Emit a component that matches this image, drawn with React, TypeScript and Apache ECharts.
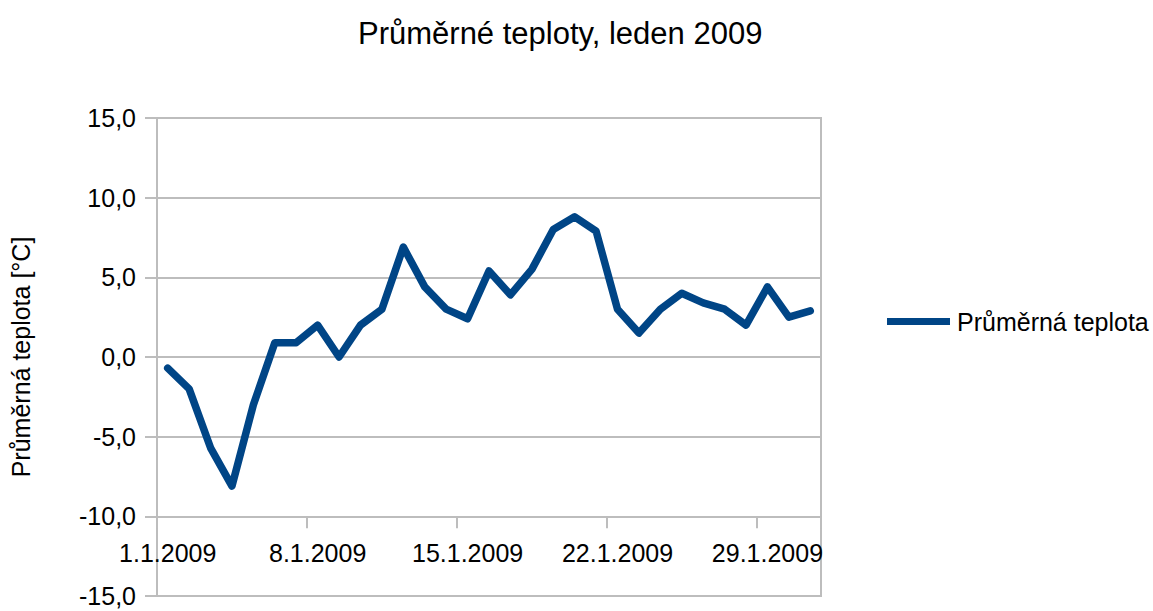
import React, { useEffect, useRef } from "react";
import * as echarts from "echarts";

const titleText = "Průměrné teploty, leden 2009";
const seriesName = "Průměrná teplota";
const yAxisName = "Průměrná teplota [°C]";

const days: string[] = [
  "1.1.2009", "2.1.2009", "3.1.2009", "4.1.2009", "5.1.2009", "6.1.2009", "7.1.2009",
  "8.1.2009", "9.1.2009", "10.1.2009", "11.1.2009", "12.1.2009", "13.1.2009", "14.1.2009",
  "15.1.2009", "16.1.2009", "17.1.2009", "18.1.2009", "19.1.2009", "20.1.2009", "21.1.2009",
  "22.1.2009", "23.1.2009", "24.1.2009", "25.1.2009", "26.1.2009", "27.1.2009", "28.1.2009",
  "29.1.2009", "30.1.2009", "31.1.2009",
];

const temps: number[] = [
  -0.7, -2.0, -5.7, -8.1, -3.0, 0.9, 0.9,
  2.0, 0.0, 2.0, 3.0, 6.9, 4.4, 3.0,
  2.4, 5.4, 3.9, 5.5, 8.0, 8.8, 7.9,
  3.0, 1.5, 3.0, 4.0, 3.4, 3.0, 2.0,
  4.4, 2.5, 2.9,
];

const yMin = -15;
const yMax = 15;
const yStep = 5;
const xAxisCross = -10;

const FONT = "'Liberation Sans', Arial, sans-serif";
const GRID_COLOR = "#bdbdbd";

export default function App() {
  const ref = useRef<HTMLDivElement>(null);

  useEffect(() => {
    if (!ref.current) return;
    const chart = echarts.init(ref.current, undefined, { renderer: "svg" });
    const gridTop = 118;
    const gridBottomPx = 596;
    const pxPerUnit = (gridBottomPx - gridTop) / (yMax - yMin);
    const axisOffset = -(xAxisCross - yMin) * pxPerUnit;

    chart.setOption({
      animation: false,
      backgroundColor: "#ffffff",
      textStyle: { fontFamily: FONT },
      title: {
        text: titleText,
        left: 353,
        top: 13,
        textStyle: { fontFamily: FONT, fontSize: 31, fontWeight: "normal", color: "#000" },
      },
      legend: {
        left: 882,
        top: 304,
        icon: "rect",
        itemWidth: 63,
        itemHeight: 7,
        itemGap: 0,
        textStyle: { fontFamily: FONT, fontSize: 25, color: "#000", padding: [0, 0, 0, 2] },
        data: [seriesName],
      },
      grid: {
        left: 146,
        right: 1153 - 821,
        top: gridTop,
        bottom: 611 - gridBottomPx,
        show: true,
        borderColor: GRID_COLOR,
        borderWidth: 2,
        containLabel: false,
      },
      xAxis: {
        type: "category",
        data: days,
        boundaryGap: true,
        position: "bottom",
        offset: axisOffset,
        axisLine: { show: true, onZero: false, lineStyle: { color: GRID_COLOR, width: 2 } },
        axisTick: { show: true, interval: 6, length: 12, lineStyle: { color: GRID_COLOR, width: 2 } },
        axisLabel: {
          interval: 6,
          fontFamily: FONT,
          fontSize: 25,
          color: "#000",
          margin: 24,
        },
        splitLine: { show: false },
      },
      yAxis: {
        type: "value",
        min: yMin,
        max: yMax,
        interval: yStep,
        name: yAxisName,
        nameLocation: "middle",
        nameRotate: 90,
        nameGap: 124,
        nameTextStyle: { fontFamily: FONT, fontSize: 25, color: "#000" },
        axisLine: { show: true, lineStyle: { color: GRID_COLOR, width: 2 } },
        axisTick: { show: true, length: 12, lineStyle: { color: GRID_COLOR, width: 2 } },
        axisLabel: {
          fontFamily: FONT,
          fontSize: 25,
          color: "#000",
          margin: 21,
          formatter: (v: number) => v.toFixed(1).replace(".", ","),
        },
        splitLine: { show: true, lineStyle: { color: GRID_COLOR, width: 2 } },
      },
      series: [
        {
          name: seriesName,
          type: "line",
          data: temps,
          symbol: "none",
          smooth: false,
          color: "#004586",
          lineStyle: { color: "#004586", width: 7.5, join: "round", cap: "round" },
        },
      ],
    });
    return () => chart.dispose();
  }, []);

  return (
    <div
      ref={ref}
      style={{ position: "fixed", left: 0, top: 0, width: 1153, height: 611, background: "#fff" }}
    />
  );
}
